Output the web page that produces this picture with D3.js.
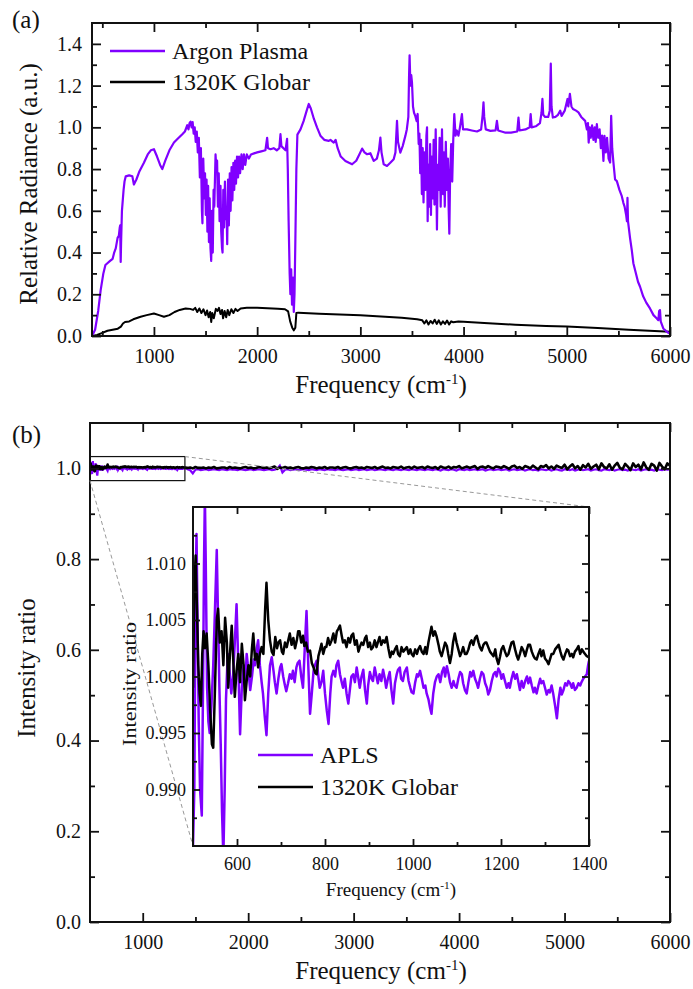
<!DOCTYPE html>
<html>
<head>
<meta charset="utf-8">
<script src="https://cdn.jsdelivr.net/npm/d3@7"></script>
<style>
  body { margin: 0; background: #fff; }
  text { font-family: "Liberation Serif", "Times New Roman", serif; fill: #111; }
</style>
</head>
<body>
<svg id="chart" width="693" height="989"></svg>
<script>
// ---- data ----
// (a) relative radiance, [frequency cm-1, value]
var argonPlasma = [[400,0],[430,0.03],[460,0.12],[484,0.22],[510,0.30],[530,0.34],[552,0.35],[575,0.36],[600,0.37],[615,0.40],[630,0.42],[648,0.47],[660,0.48],[669,0.52],[673,0.53],[676,0.42],[678,0.355],[682,0.45],[690,0.60],[706,0.70],[715,0.74],[727,0.765],[760,0.77],[791,0.765],[806,0.726],[830,0.75],[860,0.79],[903,0.83],[940,0.87],[970,0.89],[1000,0.895],[1030,0.86],[1060,0.82],[1081,0.80],[1110,0.84],[1150,0.89],[1194,0.927],[1230,0.945],[1275,0.967],[1300,0.98],[1323,1.01],[1335,0.99],[1345,1.02],[1355,1.027],[1365,1.0],[1375,1.025],[1385,0.97],[1395,1.0],
  [1405,0.93],[1415,0.98],[1425,0.88],[1435,0.95],[1445,0.76],[1455,0.90],[1465,0.60],[1470,0.54],[1478,0.85],[1488,0.66],[1495,0.78],[1503,0.58],[1510,0.75],[1518,0.50],[1525,0.72],[1533,0.45],[1540,0.66],[1548,0.42],[1555,0.36],[1562,0.60],[1570,0.40],[1578,0.70],[1585,0.62],[1597,0.87],[1605,0.80],[1612,0.84],[1620,0.62],[1628,0.78],[1636,0.55],[1645,0.72],[1652,0.50],[1660,0.42],[1665,0.40],[1672,0.70],[1680,0.52],[1688,0.74],[1696,0.56],[1703,0.62],[1710,0.44],[1718,0.75],[1726,0.53],[1735,0.78],[1743,0.60],[1752,0.81],[1760,0.65],[1770,0.83],[1778,0.70],[1787,0.84],[1795,0.73],[1805,0.86],[1815,0.76],[1825,0.86],[1835,0.78],[1848,0.87],[1860,0.80],[1872,0.87],[1885,0.82],[1900,0.87],[1920,0.85],[1940,0.87],[1970,0.875],[2000,0.88],[2040,0.885],[2080,0.89],[2097,0.95],[2105,0.90],[2130,0.895],[2160,0.90],[2190,0.89],[2215,0.90],[2226,0.967],[2235,0.91],[2255,0.90],[2275,0.89],[2290,0.945],[2297,0.80],[2305,0.55],[2315,0.30],[2322,0.20],[2330,0.32],[2338,0.15],[2348,0.28],[2355,0.115],[2362,0.20],[2370,0.45],[2380,0.80],[2390,0.965],[2420,0.99],[2450,1.03],[2480,1.08],[2500,1.112],[2520,1.09],[2550,1.04],[2580,1.0],[2613,0.96],[2650,0.94],[2694,0.935],[2710,0.94],[2742,0.927],[2760,0.94],[2780,0.90],[2810,0.86],[2855,0.839],[2890,0.83],[2920,0.823],[2960,0.84],[2990,0.87],[3017,0.898],[3040,0.88],[3065,0.871],[3097,0.876],[3129,0.839],[3160,0.85],[3180,0.89],[3194,0.951],[3205,0.88],[3226,0.823],[3258,0.815],[3290,0.83],[3323,0.847],[3340,0.88],[3355,1.031],[3365,0.93],[3387,0.879],[3410,0.91],[3436,0.959],[3450,0.99],[3465,1.05],[3472,1.25],[3477,1.345],[3485,1.20],[3493,1.25],[3500,1.216],[3510,1.10],[3520,1.07],[3532,1.055],[3545,1.03],[3555,1.064],
  [3565,0.92],[3572,0.97],[3580,0.78],[3588,0.94],[3596,0.68],[3604,0.90],[3612,0.64],[3620,0.88],[3630,0.70],[3640,0.96],[3646,1.0],[3652,0.55],[3660,0.82],[3668,0.62],[3676,0.92],[3684,0.58],[3692,0.86],[3700,0.66],[3710,0.94],[3718,0.63],[3730,0.99],[3742,0.51],[3750,0.82],[3758,0.70],[3768,0.95],[3778,0.62],[3791,0.99],[3800,0.68],[3810,0.88],[3818,0.62],[3828,0.93],[3838,0.70],[3848,0.85],[3856,0.60],[3862,0.49],[3870,0.78],[3880,0.92],[3890,0.74],[3900,0.94],[3910,1.063],[3922,0.96],[3935,0.985],[3950,0.96],[3965,1.0],[3984,1.063],[3995,0.99],[4033,0.99],[4080,0.985],[4130,0.98],[4170,0.99],[4185,1.06],[4193,1.12],[4200,1.05],[4215,0.99],[4260,0.983],[4310,0.985],[4323,1.031],[4335,0.985],[4400,0.975],[4460,0.975],[4520,0.98],[4532,1.047],[4542,0.985],[4600,0.99],[4640,1.0],[4650,1.063],[4660,1.0],[4700,1.005],[4740,1.02],[4755,1.07],[4764,1.136],[4772,1.06],[4790,1.05],[4820,1.05],[4835,1.08],[4845,1.305],[4852,1.10],[4865,1.047],[4890,1.05],[4915,1.06],[4936,1.08],[4950,1.055],[4980,1.08],[5007,1.136],[5015,1.10],[5030,1.16],[5045,1.10],[5060,1.088],[5090,1.08],[5113,1.072],[5140,1.05],[5178,1.031],[5195,0.99],[5205,1.02],[5212,0.927],[5222,1.0],[5232,0.95],[5245,1.01],[5258,0.94],[5270,1.0],[5280,0.93],[5291,1.015],[5305,0.95],[5318,0.99],[5330,0.90],[5342,0.96],[5355,0.839],[5365,0.959],[5378,0.88],[5390,0.95],[5405,0.85],[5420,0.831],[5430,1.055],[5440,0.90],[5452,0.831],[5468,0.75],[5485,0.742],[5510,0.70],[5533,0.67],[5548,0.638],[5560,0.62],[5575,0.58],[5583,0.55],[5588,0.662],[5593,0.55],[5613,0.469],[5630,0.41],[5645,0.349],[5670,0.30],[5690,0.26],[5710,0.236],[5740,0.19],[5770,0.16],[5806,0.132],[5840,0.10],[5870,0.085],[5887,0.076],[5895,0.12],[5903,0.124],[5910,0.07],[5935,0.036],[5960,0.025],[5985,0.015],[6000,0.012]];

var globar = [[400,0],[450,0.005],[500,0.015],[550,0.025],[600,0.03],[650,0.035],[680,0.045],[700,0.06],[720,0.067],[760,0.07],[800,0.08],[871,0.092],[930,0.10],[1000,0.108],[1050,0.10],[1097,0.092],[1150,0.10],[1200,0.115],[1250,0.125],[1307,0.132],[1350,0.13],[1380,0.125],[1400,0.135],[1420,0.115],[1440,0.132],[1460,0.11],[1480,0.128],[1500,0.10],[1515,0.122],[1530,0.09],[1545,0.115],[1555,0.067],[1565,0.11],[1580,0.085],[1600,0.13],[1615,0.12],[1630,0.135],[1645,0.105],[1660,0.125],[1670,0.085],[1685,0.12],[1700,0.09],[1715,0.125],[1730,0.10],[1750,0.128],[1770,0.11],[1790,0.13],[1810,0.12],[1840,0.132],[1900,0.135],[2000,0.135],[2100,0.133],[2200,0.13],[2270,0.128],[2300,0.118],[2320,0.07],[2340,0.04],[2355,0.027],[2370,0.04],[2380,0.11],[2400,0.112],[2600,0.107],[2800,0.103],[3000,0.100],[3200,0.094],[3400,0.087],[3550,0.08],[3600,0.075],[3620,0.06],[3640,0.075],[3660,0.055],[3680,0.072],[3700,0.06],[3720,0.078],[3740,0.058],[3760,0.075],[3780,0.055],[3800,0.07],[3820,0.058],[3840,0.074],[3860,0.055],[3880,0.07],[3900,0.066],[3950,0.07],[4000,0.068],[4200,0.062],[4500,0.054],[4800,0.048],[5000,0.045],[5300,0.038],[5600,0.03],[5800,0.025],[6000,0.02]];

// (b) intensity ratio, detail 500-1400 (inset)
var insetApls = [[500,0.9850],[503,0.9900],[506,1.0080],[508,1.0126],[510,1.0060],[513,0.9960],[516,0.9900],[520,0.9877],[523,1.0000],[525,1.0100],[527,1.0160],[529,1.0100],[532,0.9990],[535,0.9960],[538,0.9950],[542,0.9975],[546,1.0010],[550,1.0060],[554,1.0112],[557,1.0050],[560,0.9990],[563,0.9940],[566,0.9880],[569,0.9840],[572,0.9900],[575,0.9980],[579,1.0020],[583,1.0005],[587,0.9985],[591,1.0000],[595,1.0030],[599,1.0064],[603,1.0010],[607,0.9949],[611,0.9990],[615,1.0010],[619,0.9995],[622,1.0020],[626,1.0005],[630,0.9988],[634,1.0000],[638,1.0015],[641,1.0010],[645,1.0025],[648,1.0032],[652,1.0010],[656,0.9995],[659,0.9985],[663,0.9965],[667,0.9948],[671,0.9985],[675,1.0010],[679,1.0017],[683,1.0005],[686,0.9995],[690,0.9985],[694,0.9998],[698,1.0008],[701,1.0011],[705,1.0000],[709,0.9992],[712,0.9987],[716,0.9994],[720,1.0002],[724,0.9998],[727,1.0005],[731,0.9995],[735,1.0008],[738,1.0012],[742,1.0014],[746,1.0000],[750,0.9990],[754,1.0025],[758,1.0058],[762,1.0010],[766,0.9967],[770,0.9985],[774,1.0005],[777,1.0010],[781,1.0014],[785,1.0000],[788,0.9990],[792,0.9995],[796,1.0005],[800,0.9985],[804,0.9970],[808,0.9958],[812,0.9985],[815,1.0000],[819,1.0005],[823,1.0000],[826,1.0010],[830,1.0014],[834,1.0002],[838,0.9995],[841,0.9990],[845,0.9998],[849,0.9985],[853,0.9976],[857,0.9990],[860,1.0000],[864,1.0002],[868,0.9995],[872,1.0008],[876,0.9998],[879,0.9990],[883,1.0000],[887,1.0006],[891,0.9988],[895,0.9976],[898,0.9992],[902,1.0004],[906,0.9998],[909,0.9996],[913,1.0008],[917,1.0000],[920,0.9994],[924,1.0002],[928,0.9996],[932,1.0006],[936,0.9998],[939,0.9990],[943,0.9998],[947,1.0004],[951,0.9988],[955,0.9976],[959,0.9994],[963,1.0002],[966,1.0006],[970,1.0008],[973,0.9998],[977,0.9996],[981,1.0004],[986,1.0008],[990,0.9996],[994,0.9990],[997,0.9986],[1001,0.9985],[1005,0.9995],[1009,1.0002],[1012,1.0000],[1016,1.0005],[1020,0.9998],[1024,0.9990],[1028,0.9992],[1031,0.9985],[1035,0.9980],[1039,0.9972],[1042,0.9967],[1046,0.9985],[1050,0.9995],[1054,1.0000],[1058,1.0002],[1062,0.9995],[1066,1.0004],[1070,1.0008],[1073,1.0000],[1077,1.0009],[1081,1.0002],[1084,0.9995],[1088,0.9990],[1092,0.9996],[1095,0.9992],[1099,0.9990],[1103,0.9998],[1107,1.0004],[1111,1.0002],[1114,0.9994],[1118,0.9988],[1122,0.9985],[1126,0.9995],[1130,1.0004],[1133,1.0000],[1137,1.0005],[1141,0.9998],[1145,0.9994],[1148,0.9990],[1152,0.9998],[1156,1.0004],[1160,1.0002],[1164,0.9994],[1168,0.9990],[1171,0.9984],[1175,0.9988],[1179,0.9996],[1183,1.0002],[1187,1.0004],[1190,1.0000],[1194,1.0007],[1198,1.0004],[1201,0.9998],[1205,1.0002],[1209,0.9996],[1213,0.9990],[1217,0.9994],[1220,0.9990],[1224,0.9998],[1228,1.0004],[1232,0.9998],[1236,1.0002],[1240,0.9994],[1243,0.9988],[1247,0.9996],[1251,0.9990],[1255,0.9996],[1259,1.0000],[1262,0.9994],[1266,0.9999],[1270,0.9992],[1274,0.9986],[1277,0.9990],[1281,0.9985],[1285,0.9992],[1289,0.9998],[1292,0.9994],[1296,0.9996],[1300,0.9990],[1304,0.9984],[1308,0.9988],[1311,0.9986],[1315,0.9992],[1319,0.9984],[1323,0.9974],[1327,0.9963],[1331,0.9980],[1335,0.9990],[1338,0.9984],[1342,0.9988],[1346,0.9994],[1350,0.9992],[1353,0.9996],[1357,0.9994],[1361,0.9990],[1364,0.9994],[1368,0.9988],[1372,0.9990],[1376,0.9994],[1380,0.9992],[1383,0.9995],[1387,0.9998],[1391,1.0000],[1395,1.0002],[1398,1.0010],[1400,1.0014]];

var insetGlobar = [[500,0.9990],[503,1.0080],[506,1.0107],[509,1.0060],[512,1.0010],[515,0.9985],[518,0.9974],[521,1.0020],[524,1.0040],[527,1.0025],[531,1.0038],[535,1.0010],[539,0.9970],[543,0.9940],[546,0.9937],[550,0.9990],[554,1.0050],[557,1.0060],[561,1.0030],[565,1.0040],[569,1.0010],[573,1.0052],[577,1.0030],[580,0.9990],[584,1.0020],[588,1.0045],[592,1.0010],[595,0.9982],[599,1.0005],[603,1.0020],[607,0.9995],[611,1.0029],[615,1.0010],[618,0.9979],[622,0.9996],[626,1.0010],[630,1.0000],[634,1.0025],[637,1.0038],[641,1.0015],[645,1.0020],[648,1.0008],[652,1.0020],[656,1.0026],[660,1.0020],[664,1.0060],[667,1.0083],[671,1.0050],[675,1.0032],[679,1.0022],[683,1.0019],[687,1.0035],[691,1.0025],[694,1.0030],[698,1.0032],[702,1.0022],[705,1.0020],[709,1.0030],[713,1.0026],[717,1.0033],[720,1.0038],[724,1.0028],[728,1.0034],[732,1.0025],[736,1.0032],[739,1.0040],[742,1.0040],[746,1.0030],[750,1.0036],[753,1.0027],[757,1.0030],[761,1.0022],[766,1.0023],[770,1.0012],[774,1.0008],[778,1.0003],[781,1.0002],[785,1.0018],[789,1.0024],[792,1.0029],[796,1.0020],[800,1.0026],[803,1.0026],[807,1.0034],[811,1.0028],[815,1.0032],[819,1.0038],[823,1.0030],[827,1.0040],[830,1.0042],[834,1.0045],[838,1.0036],[841,1.0030],[845,1.0032],[849,1.0026],[853,1.0034],[857,1.0030],[860,1.0036],[864,1.0038],[868,1.0028],[872,1.0032],[876,1.0022],[879,1.0026],[883,1.0030],[887,1.0028],[891,1.0034],[894,1.0036],[898,1.0026],[902,1.0030],[905,1.0024],[909,1.0026],[913,1.0032],[917,1.0026],[920,1.0030],[924,1.0035],[928,1.0028],[932,1.0032],[936,1.0030],[940,1.0035],[944,1.0025],[948,1.0017],[952,1.0022],[955,1.0020],[959,1.0024],[963,1.0027],[966,1.0020],[970,1.0018],[974,1.0026],[978,1.0022],[982,1.0024],[986,1.0026],[990,1.0020],[994,1.0024],[997,1.0020],[1001,1.0018],[1005,1.0024],[1009,1.0020],[1012,1.0024],[1016,1.0027],[1020,1.0022],[1024,1.0020],[1028,1.0026],[1031,1.0020],[1035,1.0030],[1039,1.0038],[1042,1.0044],[1046,1.0036],[1050,1.0040],[1054,1.0035],[1058,1.0028],[1061,1.0022],[1065,1.0018],[1069,1.0024],[1073,1.0030],[1077,1.0027],[1080,1.0020],[1084,1.0012],[1088,1.0020],[1091,1.0030],[1095,1.0038],[1099,1.0030],[1103,1.0024],[1107,1.0018],[1111,1.0022],[1114,1.0026],[1118,1.0020],[1122,1.0020],[1126,1.0024],[1130,1.0030],[1133,1.0032],[1137,1.0028],[1141,1.0034],[1145,1.0036],[1149,1.0030],[1152,1.0026],[1156,1.0023],[1160,1.0028],[1164,1.0030],[1167,1.0030],[1171,1.0026],[1175,1.0022],[1179,1.0020],[1183,1.0018],[1187,1.0024],[1190,1.0016],[1194,1.0011],[1198,1.0018],[1201,1.0024],[1205,1.0027],[1209,1.0022],[1213,1.0018],[1217,1.0020],[1221,1.0026],[1224,1.0030],[1228,1.0031],[1232,1.0024],[1236,1.0018],[1239,1.0015],[1243,1.0020],[1247,1.0026],[1251,1.0023],[1255,1.0018],[1259,1.0024],[1262,1.0028],[1266,1.0028],[1270,1.0022],[1274,1.0018],[1277,1.0016],[1281,1.0015],[1285,1.0020],[1289,1.0024],[1292,1.0018],[1296,1.0023],[1300,1.0016],[1304,1.0014],[1308,1.0011],[1312,1.0016],[1315,1.0020],[1319,1.0020],[1323,1.0024],[1327,1.0026],[1331,1.0028],[1335,1.0022],[1338,1.0018],[1342,1.0015],[1346,1.0020],[1350,1.0024],[1353,1.0023],[1357,1.0018],[1361,1.0020],[1364,1.0017],[1368,1.0022],[1372,1.0024],[1376,1.0027],[1380,1.0020],[1384,1.0024],[1387,1.0022],[1391,1.0020],[1395,1.0018],[1400,1.0017]];

// (b) intensity ratio beyond the inset range, 1425-6000 every 25 cm-1
var ratioFreq = d3.range(1425, 6001, 25);
var ratioApls = [
  0.998,0.996,0.989,0.997,0.998,0.996,0.997,0.998,0.996,0.997,
  0.998,0.997,0.996,0.998,0.997,0.996,0.998,0.997,0.997,0.996,
  0.998,0.997,0.996,0.997,0.998,0.996,0.997,0.998,0.997,0.996,
  0.997,0.998,0.996,0.997,0.999,1.006,0.991,0.997,0.998,0.996,
  0.997,0.998,0.996,0.997,0.998,0.997,0.996,0.998,0.997,0.996,
  0.998,0.997,0.996,0.998,0.997,0.997,0.996,0.998,0.997,0.996,
  0.997,0.998,0.996,0.997,0.998,0.996,0.997,0.998,0.996,0.997,
  0.998,0.996,0.997,0.998,0.997,0.996,0.998,0.997,0.996,0.998,
  0.997,0.996,0.998,0.997,0.996,0.998,0.997,0.996,0.998,0.997,
  0.996,0.998,0.997,0.996,0.998,0.997,0.995,0.998,0.997,0.996,
  0.998,0.997,0.995,0.998,0.997,0.996,0.998,0.996,0.997,0.998,
  0.996,0.997,0.998,0.995,0.997,0.998,0.996,0.997,0.998,0.996,
  0.997,0.998,0.995,0.997,0.998,0.996,0.997,0.998,0.995,0.997,
  0.998,0.996,0.997,0.995,0.998,0.997,0.996,0.998,0.995,0.997,
  0.998,0.996,0.995,0.998,0.997,0.996,0.998,0.995,0.997,0.998,
  0.996,0.997,0.998,0.995,0.997,0.998,0.996,0.995,0.998,0.997,
  0.996,0.998,0.995,0.997,0.998,0.996,0.997,0.995,0.998,0.997,
  0.996,0.998,0.995,0.997,0.998,0.996,0.997,0.995,0.998,0.997,
  0.996,0.998,0.997,0.998];
var ratioGlobar = [
  1.001,1.002,1.000,1.003,1.001,1.001,1.002,1.000,1.002,1.001,
  1.003,1.000,1.001,1.002,1.002,1.000,1.003,1.001,1.002,1.001,
  1.000,1.002,1.003,1.001,1.002,1.000,1.001,1.003,1.002,1.001,
  1.002,1.000,1.002,1.004,0.999,1.002,1.001,1.003,1.001,1.002,
  1.000,1.002,1.003,1.001,1.000,1.002,1.001,1.003,1.002,1.000,
  1.002,1.001,1.003,1.000,1.002,1.002,1.001,1.003,1.000,1.002,
  1.003,1.001,1.000,1.002,1.003,1.001,1.002,1.000,1.003,1.002,
  1.001,1.003,1.000,1.002,1.004,1.001,1.002,1.000,1.003,1.002,
  1.001,1.004,1.000,1.002,1.003,1.000,1.004,1.001,1.002,1.003,
  1.000,1.004,1.002,1.001,1.003,0.999,1.004,1.002,1.001,1.004,
  1.000,1.003,1.002,1.005,1.000,1.002,1.004,1.001,1.003,1.005,
  0.999,1.003,1.004,1.001,1.005,1.002,1.000,1.004,1.003,1.001,
  1.005,1.002,0.999,1.004,1.006,1.001,1.003,0.999,1.005,1.003,
  1.000,1.006,1.002,0.998,1.005,1.003,1.007,1.000,1.004,0.999,
  1.006,1.003,1.001,1.008,0.998,1.004,1.009,1.000,1.005,0.997,
  1.007,1.002,1.010,0.999,1.004,1.008,0.998,1.011,1.003,1.000,
  1.009,0.997,1.006,1.012,1.001,0.998,1.010,1.004,0.996,1.011,
  1.003,1.008,0.998,1.013,1.002,0.997,1.010,1.006,0.995,1.012,
  1.004,0.998,1.011,1.006];

// tick values and labels
var ticksA_x = [1000,2000,3000,4000,5000,6000], minorA_x = [500,1500,2500,3500,4500,5500];
var ticksA_y = [0,0.2,0.4,0.6,0.8,1.0,1.2,1.4], minorA_y = [0.1,0.3,0.5,0.7,0.9,1.1,1.3];
var ticksB_x = [1000,2000,3000,4000,5000,6000], minorB_x = [1500,2500,3500,4500,5500];
var ticksB_y = [0,0.2,0.4,0.6,0.8,1.0], minorB_y = [0.1,0.3,0.5,0.7,0.9];
var ticksI_x = [600,800,1000,1200,1400], minorI_x = [700,900,1100,1300];
var ticksI_y = [0.990,0.995,1.000,1.005,1.010], minorI_y = [0.9875,0.9925,0.9975,1.0025,1.0075,1.0125];

var PURPLE = "#8000ff";
var SERIF = "'Liberation Serif', 'Times New Roman', serif";

var svg = d3.select("#chart");

// draws a closed frame with inward ticks on all four sides
function frame(g, x, y, o) {
  var w = x.range()[1], h = y.range()[0];
  function style(sel, labels) {
    sel.select(".domain").remove();
    sel.attr("font-family", SERIF).attr("font-size", o.fs);
    sel.selectAll("line").attr("stroke", "#111").attr("stroke-width", 1.8);
    sel.selectAll("text").attr("fill", "#111");
    if (!labels) sel.selectAll("text").remove();
  }
  var sides = [
    {ax: d3.axisBottom(x), t: "translate(0," + h + ")", lab: true, vals: o.xMajor, fmt: o.fx, pad: o.padX},
    {ax: d3.axisTop(x), t: "translate(0,0)", lab: false, vals: o.xMajor},
    {ax: d3.axisLeft(y), t: "translate(0,0)", lab: true, vals: o.yMajor, fmt: o.fy, pad: o.padY},
    {ax: d3.axisRight(y), t: "translate(" + w + ",0)", lab: false, vals: o.yMajor}
  ];
  sides.forEach(function(s) {
    var a = s.ax.tickValues(s.vals).tickSize(-o.maj).tickPadding(s.pad || 3);
    if (s.fmt) a.tickFormat(s.fmt);
    g.append("g").attr("transform", s.t).call(a).call(function(sel) { style(sel, s.lab); });
  });
  var minors = [
    [d3.axisBottom(x), "translate(0," + h + ")", o.xMinor],
    [d3.axisTop(x), "translate(0,0)", o.xMinor],
    [d3.axisLeft(y), "translate(0,0)", o.yMinor],
    [d3.axisRight(y), "translate(" + w + ",0)", o.yMinor]
  ];
  minors.forEach(function(m) {
    g.append("g").attr("transform", m[1])
      .call(m[0].tickValues(m[2]).tickSize(-o.min).tickFormat(""))
      .call(function(sel) { style(sel, false); });
  });
  g.append("rect").attr("width", w).attr("height", h)
    .attr("fill", "none").attr("stroke", "#111").attr("stroke-width", 2);
}

function freqTitle(g, x, y, fs) {
  var t = g.append("text").attr("x", x).attr("y", y).attr("text-anchor", "middle")
    .attr("font-size", fs).text("Frequency (cm");
  t.append("tspan").attr("dy", -fs * 0.38).attr("font-size", fs * 0.6).text("-1");
  t.append("tspan").attr("dy", fs * 0.38).text(")");
}

function yTitle(g, x, y, fs, txt, len) {
  var t = g.append("text").attr("transform", "translate(" + x + "," + y + ") rotate(-90)")
    .attr("text-anchor", "middle").attr("font-size", fs).text(txt);
  if (len) t.attr("textLength", len).attr("lengthAdjust", "spacingAndGlyphs");
}

function legend(g, x0, y0, gap, fs, items) {
  items.forEach(function(it, i) {
    var yy = y0 + i * gap;
    g.append("line").attr("x1", x0).attr("x2", x0 + 55).attr("y1", yy).attr("y2", yy)
      .attr("stroke", it.c).attr("stroke-width", 2.5);
    g.append("text").attr("x", x0 + 62).attr("y", yy + fs * 0.33).attr("font-size", fs).text(it.t);
  });
}

var fmt1 = d3.format(".1f"), fmt3 = d3.format(".3f"), fmt0 = d3.format("d");

// ---------------- panel (a) ----------------
var A = {left: 92, top: 23, w: 578, h: 313};
var xa = d3.scaleLinear().domain([400, 6000]).range([0, A.w]);
var ya = d3.scaleLinear().domain([0, 1.5]).range([A.h, 0]);
var ga = svg.append("g").attr("transform", "translate(" + A.left + "," + A.top + ")");
svg.append("defs").append("clipPath").attr("id", "clipA")
  .append("rect").attr("width", A.w).attr("height", A.h);

var lineA = d3.line().x(function(d) { return xa(d[0]); }).y(function(d) { return ya(d[1]); });
var plotA = ga.append("g").attr("clip-path", "url(#clipA)");
plotA.append("path").datum(globar).attr("d", lineA).attr("fill", "none")
  .attr("stroke", "#000").attr("stroke-width", 2).attr("stroke-linejoin", "round");
plotA.append("path").datum(argonPlasma).attr("d", lineA).attr("fill", "none")
  .attr("stroke", PURPLE).attr("stroke-width", 2.2).attr("stroke-linejoin", "round");

frame(ga, xa, ya, {xMajor: ticksA_x, xMinor: minorA_x, yMajor: ticksA_y, yMinor: minorA_y,
  fx: fmt0, fy: fmt1, fs: 20, maj: 9, min: 5, padX: 13, padY: 10});
legend(ga, 18, 28, 31, 24, [{t: "Argon Plasma", c: PURPLE}, {t: "1320K Globar", c: "#000"}]);
freqTitle(svg, 381, 393, 25);
yTitle(svg, 37, 184, 25, "Relative Radiance (a.u.)");
svg.append("text").attr("x", 12).attr("y", 28).attr("font-size", 25).text("(a)");

// ---------------- panel (b) ----------------
var B = {left: 90, top: 423, w: 580, h: 499};
var xb = d3.scaleLinear().domain([500, 6000]).range([0, B.w]);
var yb = d3.scaleLinear().domain([0, 1.1]).range([B.h, 0]);
var gb = svg.append("g").attr("transform", "translate(" + B.left + "," + B.top + ")");
svg.select("defs").append("clipPath").attr("id", "clipB")
  .append("rect").attr("width", B.w).attr("height", B.h);

var aplsFull = insetApls.concat(ratioFreq.map(function(f, i) { return [f, ratioApls[i]]; }));
var globarFull = insetGlobar.concat(ratioFreq.map(function(f, i) { return [f, ratioGlobar[i]]; }));
var lineB = d3.line().x(function(d) { return xb(d[0]); }).y(function(d) { return yb(d[1]); });
var plotB = gb.append("g").attr("clip-path", "url(#clipB)");
plotB.append("path").datum(aplsFull).attr("d", lineB).attr("fill", "none")
  .attr("stroke", PURPLE).attr("stroke-width", 2.2);
plotB.append("path").datum(globarFull).attr("d", lineB).attr("fill", "none")
  .attr("stroke", "#000").attr("stroke-width", 2.6).attr("stroke-linejoin", "round");

frame(gb, xb, yb, {xMajor: ticksB_x, xMinor: minorB_x, yMajor: ticksB_y, yMinor: minorB_y,
  fx: fmt0, fy: fmt1, fs: 20, maj: 9, min: 5, padX: 13, padY: 9});
freqTitle(svg, 381, 979, 25);
yTitle(svg, 35, 668, 25, "Intensity ratio");
svg.append("text").attr("x", 12).attr("y", 443).attr("font-size", 25).text("(b)");

// zoom box and guide lines
var box = {x0: 500, x1: 1400, y0: 0.973, y1: 1.026};
gb.append("rect").attr("x", xb(box.x0)).attr("y", yb(box.y1))
  .attr("width", xb(box.x1) - xb(box.x0)).attr("height", yb(box.y0) - yb(box.y1))
  .attr("fill", "none").attr("stroke", "#111").attr("stroke-width", 1.2);

// ---------------- inset ----------------
var I = {left: 193, top: 507, w: 396, h: 339};
var xi = d3.scaleLinear().domain([500, 1400]).range([0, I.w]);
var yi = d3.scaleLinear().domain([0.985, 1.015]).range([I.h, 0]);

svg.append("line").attr("x1", B.left + xb(box.x1)).attr("y1", B.top + yb(box.y1))
  .attr("x2", I.left + I.w).attr("y2", I.top)
  .attr("stroke", "#999").attr("stroke-width", 1).attr("stroke-dasharray", "4,3");
svg.append("line").attr("x1", B.left + xb(box.x0)).attr("y1", B.top + yb(box.y0))
  .attr("x2", I.left).attr("y2", I.top + I.h)
  .attr("stroke", "#999").attr("stroke-width", 1).attr("stroke-dasharray", "4,3");

var gi = svg.append("g").attr("transform", "translate(" + I.left + "," + I.top + ")");
gi.append("rect").attr("width", I.w).attr("height", I.h).attr("fill", "#fff");
svg.select("defs").append("clipPath").attr("id", "clipI")
  .append("rect").attr("width", I.w).attr("height", I.h);
var lineI = d3.line().x(function(d) { return xi(d[0]); }).y(function(d) { return yi(d[1]); });
var plotI = gi.append("g").attr("clip-path", "url(#clipI)");
plotI.append("path").datum(insetApls).attr("d", lineI).attr("fill", "none")
  .attr("stroke", PURPLE).attr("stroke-width", 2.5).attr("stroke-linejoin", "round");
plotI.append("path").datum(insetGlobar).attr("d", lineI).attr("fill", "none")
  .attr("stroke", "#000").attr("stroke-width", 2.5).attr("stroke-linejoin", "round");

frame(gi, xi, yi, {xMajor: ticksI_x, xMinor: minorI_x, yMajor: ticksI_y, yMinor: minorI_y,
  fx: fmt0, fy: fmt3, fs: 18, maj: 7, min: 4, padX: 11, padY: 7});
legend(gi, 65, 248, 32, 24, [{t: "APLS", c: PURPLE}, {t: "1320K Globar", c: "#000"}]);
freqTitle(svg, 391, 896, 19);
yTitle(svg, 136, 684, 18, "Intensity ratio", 124);
</script>
</body>
</html>
